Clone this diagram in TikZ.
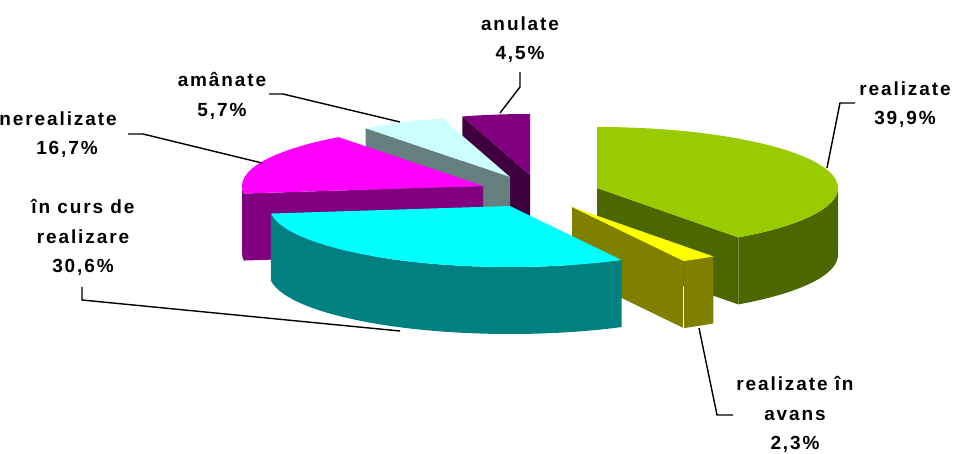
\documentclass[tikz,border=0pt]{standalone}
\usepackage{fontspec}
\setmainfont{Liberation Sans}
\newfontfamily\lblfont{Liberation Sans Bold}[LetterSpace=10]
\definecolor{grTop}{HTML}{99CC00}
\definecolor{grSide}{HTML}{4C6600}
\definecolor{yeTop}{HTML}{FFFF00}
\definecolor{yeSide}{HTML}{808000}
\definecolor{cyTop}{HTML}{00FFFF}
\definecolor{cySide}{HTML}{008080}
\definecolor{mgTop}{HTML}{FF00FF}
\definecolor{mgSide}{HTML}{800080}
\definecolor{ltTop}{HTML}{CCFFFF}
\definecolor{ltSide}{HTML}{668080}
\definecolor{puTop}{HTML}{800080}
\definecolor{puSide}{HTML}{400040}
\tikzset{
  leader/.style={draw=black,line width=1.4pt},
  lbl/.style={font={\lblfont\fontsize{19}{29.5}\selectfont},align=center,inner sep=0pt,anchor=north},
  elr/.style={x radius=241,y radius=61}
}
\begin{document}
\begin{tikzpicture}[x=1pt,y=1pt]
\useasboundingbox (0,0) rectangle (953,-454);
\fill[white] (0,0) rectangle (953,-454);
% anulate
\begin{scope}[shift={(530,-175)}]
  \fill[puSide] (0,0) -- (106.3:241 and 61) -- ++(0,-67) -- (0,-67) -- cycle;
  \fill[puTop] (0,0) -- (90:241 and 61) arc[start angle=90,end angle=106.3,elr] -- cycle;
\end{scope}
% amanate
\begin{scope}[shift={(510,-177)}]
  \fill[ltSide] (0,0) -- (126.8:241 and 61) -- ++(0,-67) -- (0,-67) -- cycle;
  \fill[ltTop] (0,0) -- (106.3:241 and 61) arc[start angle=106.3,end angle=126.8,elr] -- cycle;
\end{scope}
% nerealizate
\begin{scope}[shift={(483,-186)}]
  \fill[mgSide] (0,0) -- (187.1:241 and 61) -- ++(0,-67) -- (0,-67) -- cycle;
  \fill[mgSide] (180:241 and 61) arc[start angle=180,end angle=187.1,elr] -- ++(0,-67) arc[start angle=187.1,end angle=180,elr] -- cycle;
  \fill[mgTop] (0,0) -- (126.8:241 and 61) arc[start angle=126.8,end angle=187.1,elr] -- cycle;
\end{scope}
% realizate
\begin{scope}[shift={(597,-188)}]
  \fill[grSide] (0,0) -- (-54.1:241 and 61) -- ++(0,-67) -- (0,-67) -- cycle;
  \fill[grSide] (-54.1:241 and 61) arc[start angle=-54.1,end angle=0,elr] -- ++(0,-67) arc[start angle=0,end angle=-54.1,elr] -- cycle;
  \fill[grTop] (0,0) -- (-54.1:241 and 61) arc[start angle=-54.1,end angle=90,elr] -- cycle;
\end{scope}
% realizate in avans
\begin{scope}[shift={(572,-207)}]
  \fill[yeSide] (0,0) -- (-62.4:241 and 61) -- ++(0,-67) -- (0,-67) -- cycle;
  \fill[yeSide] (-62.4:241 and 61) arc[start angle=-62.4,end angle=-54.1,elr] -- ++(0,-67) arc[start angle=-54.1,end angle=-62.4,elr] -- cycle;
  \draw[white,line width=1.2pt] (-62.4:241 and 61) ++(0,-26) -- ++(0,-41);
  \fill[yeTop] (0,0) -- (-62.4:241 and 61) arc[start angle=-62.4,end angle=-54.1,elr] -- cycle;
\end{scope}
% in curs de realizare
\begin{scope}[shift={(510,-206)}]
  \fill[cySide] (-172.9:241 and 61) arc[start angle=-172.9,end angle=-62.4,elr] -- ++(0,-67) arc[start angle=-62.4,end angle=-172.9,elr] -- cycle;
  \fill[cyTop] (0,0) -- (-172.9:241 and 61) arc[start angle=-172.9,end angle=-62.4,elr] -- cycle;
\end{scope}
% labels
\node[lbl] (lanul) at (520,-16.5) {anulate\\4,5\%};
\node[lbl] (lreal) at (905,-81.5) {realizate\\39,9\%};
\node[lbl] (lavans) at (795,-376.5) {realizate în\\avans\\2,3\%};
\node[lbl] (lcurs) at (83,-199.5) {în curs de\\realizare\\30,6\%};
\node[lbl] (lnere) at (67,-111.5) {\hspace*{-18pt}nerealizate\\16,7\%};
\node[lbl] (laman) at (222,-72.5) {amânate\\5,7\%};
% leader points
\coordinate (a1) at (520,-72); \coordinate (a2) at (520,-87); \coordinate (a3) at (500,-113);
\coordinate (r1) at (855,-103); \coordinate (r2) at (840,-103); \coordinate (r3) at (827,-168);
\coordinate (v1) at (699,-328); \coordinate (v2) at (717,-415); \coordinate (v3) at (733,-415);
\coordinate (c1) at (82,-287); \coordinate (c2) at (82,-300); \coordinate (c3) at (400,-331);
\coordinate (n1) at (128,-134); \coordinate (n2) at (143,-134); \coordinate (n3) at (262,-163);
\coordinate (m1) at (269,-94); \coordinate (m2) at (283,-94); \coordinate (m3) at (400,-122);
\draw[leader] (a1) -- (a2) -- (a3);
\draw[leader] (r1) -- (r2) -- (r3);
\draw[leader] (v1) -- (v2) -- (v3);
\draw[leader] (c1) -- (c2) -- (c3);
\draw[leader] (n1) -- (n2) -- (n3);
\draw[leader] (m1) -- (m2) -- (m3);
\end{tikzpicture}
\end{document}
